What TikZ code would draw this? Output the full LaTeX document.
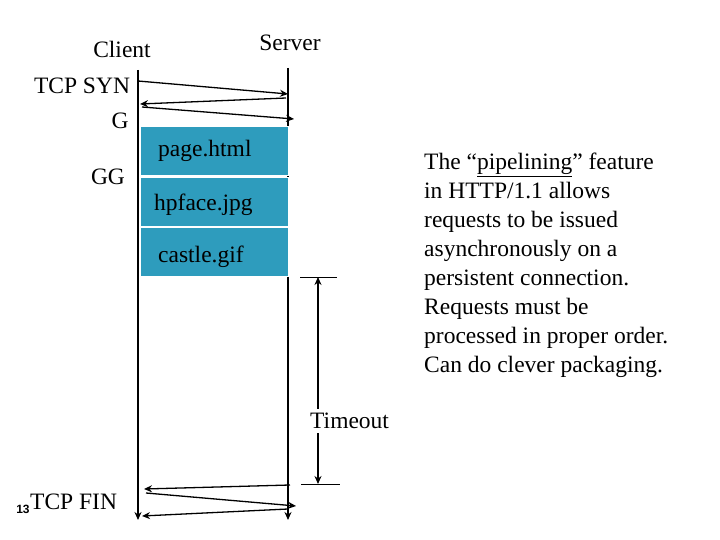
\documentclass[tikz,border=0pt]{standalone}
\usepackage{fontspec}
\setmainfont{Liberation Serif}
\newfontfamily\lsans{Liberation Sans}
\usetikzlibrary{arrows.meta}
\begin{document}
\begin{tikzpicture}[x=1pt,y=-1pt,
  lab/.style={font=\fontsize{23.5}{28}\selectfont,inner sep=0pt},
  msg/.style={line width=1.3pt,-{Stealth[length=8pt,width=7pt]}},
  pkt/.style={fill=boxc,draw=white,line width=1pt,minimum width=148pt,minimum height=49pt,inner sep=0pt},
  tick/.style={line width=0.6pt}]
\definecolor{boxc}{HTML}{2E9CBD}
\useasboundingbox (0,0) rectangle (720,540);
% timelines
\coordinate (ct) at (138,70); \coordinate (cb) at (138,520);
\coordinate (st) at (288,68); \coordinate (sb) at (288,520);
\draw[msg] (ct) -- (cb);
\draw[msg] (st) -- (sb);
% packets
\node[pkt,anchor=north west] (p1) at (140,126) {};
\node[pkt,anchor=north west] (p2) at (140,177) {};
\node[pkt,anchor=north west] (p3) at (140,227) {};
\node[lab,anchor=west] (t1) at (158,151) {page.html};
\node[lab,anchor=west] (t2) at (154,205) {hpface.jpg};
\node[lab,anchor=west] (t3) at (158,257) {castle.gif};
% handshake
\coordinate (a1) at (138,81); \coordinate (a2) at (288,94);
\coordinate (b1) at (286,98); \coordinate (b2) at (140,104);
\coordinate (c1) at (142,107); \coordinate (c2) at (294,119);
\draw[msg] (a1) -- (a2);
\draw[msg] (b1) -- (b2);
\draw[msg] (c1) -- (c2);
% fin
\coordinate (d1) at (290,485); \coordinate (d2) at (144,489);
\coordinate (e1) at (146,493); \coordinate (e2) at (296,506);
\coordinate (f1) at (288,509); \coordinate (f2) at (142,516);
\draw[msg] (d1) -- (d2);
\draw[msg] (e1) -- (e2);
\draw[msg] (f1) -- (f2);
% timeout
\coordinate (k1) at (300,277); \coordinate (k2) at (337,277);
\coordinate (k3) at (301,484); \coordinate (k4) at (340,484);
\draw[tick] (k1) -- (k2); \draw[tick] (k3) -- (k4);
\coordinate (u1) at (318,277); \coordinate (u2) at (318,484);
\node[lab,fill=white,inner ysep=4pt,anchor=west] (to) at (310,421) {Timeout};
\draw[msg] (to.north -| u1) -- (u1);
\draw[msg] (to.south -| u1) -- (u2);
% labels
\node[lab] (cl) at (122,49) {Client};
\node[lab] (sv) at (290,43) {Server};
\node[lab] (syn) at (82,86) {TCP SYN};
\node[lab] (g) at (120,121) {G};
\node[lab] (gg) at (108,177) {GG};
\node[lab,anchor=west] (fin) at (30,502) {TCP FIN};
\node[inner sep=0pt,font=\lsans\bfseries\fontsize{12}{13}\selectfont] (n13) at (23,509) {13};
\node[lab,anchor=north west,align=left,font=\fontsize{23.5}{29}\selectfont] (txt) at (424,153)
 {The “\underline{pipelining}” feature\\in HTTP/1.1 allows\\requests to be issued\\asynchronously on a\\persistent connection.\\Requests must be\\processed in proper order.\\Can do clever packaging.};
\end{tikzpicture}
\end{document}
